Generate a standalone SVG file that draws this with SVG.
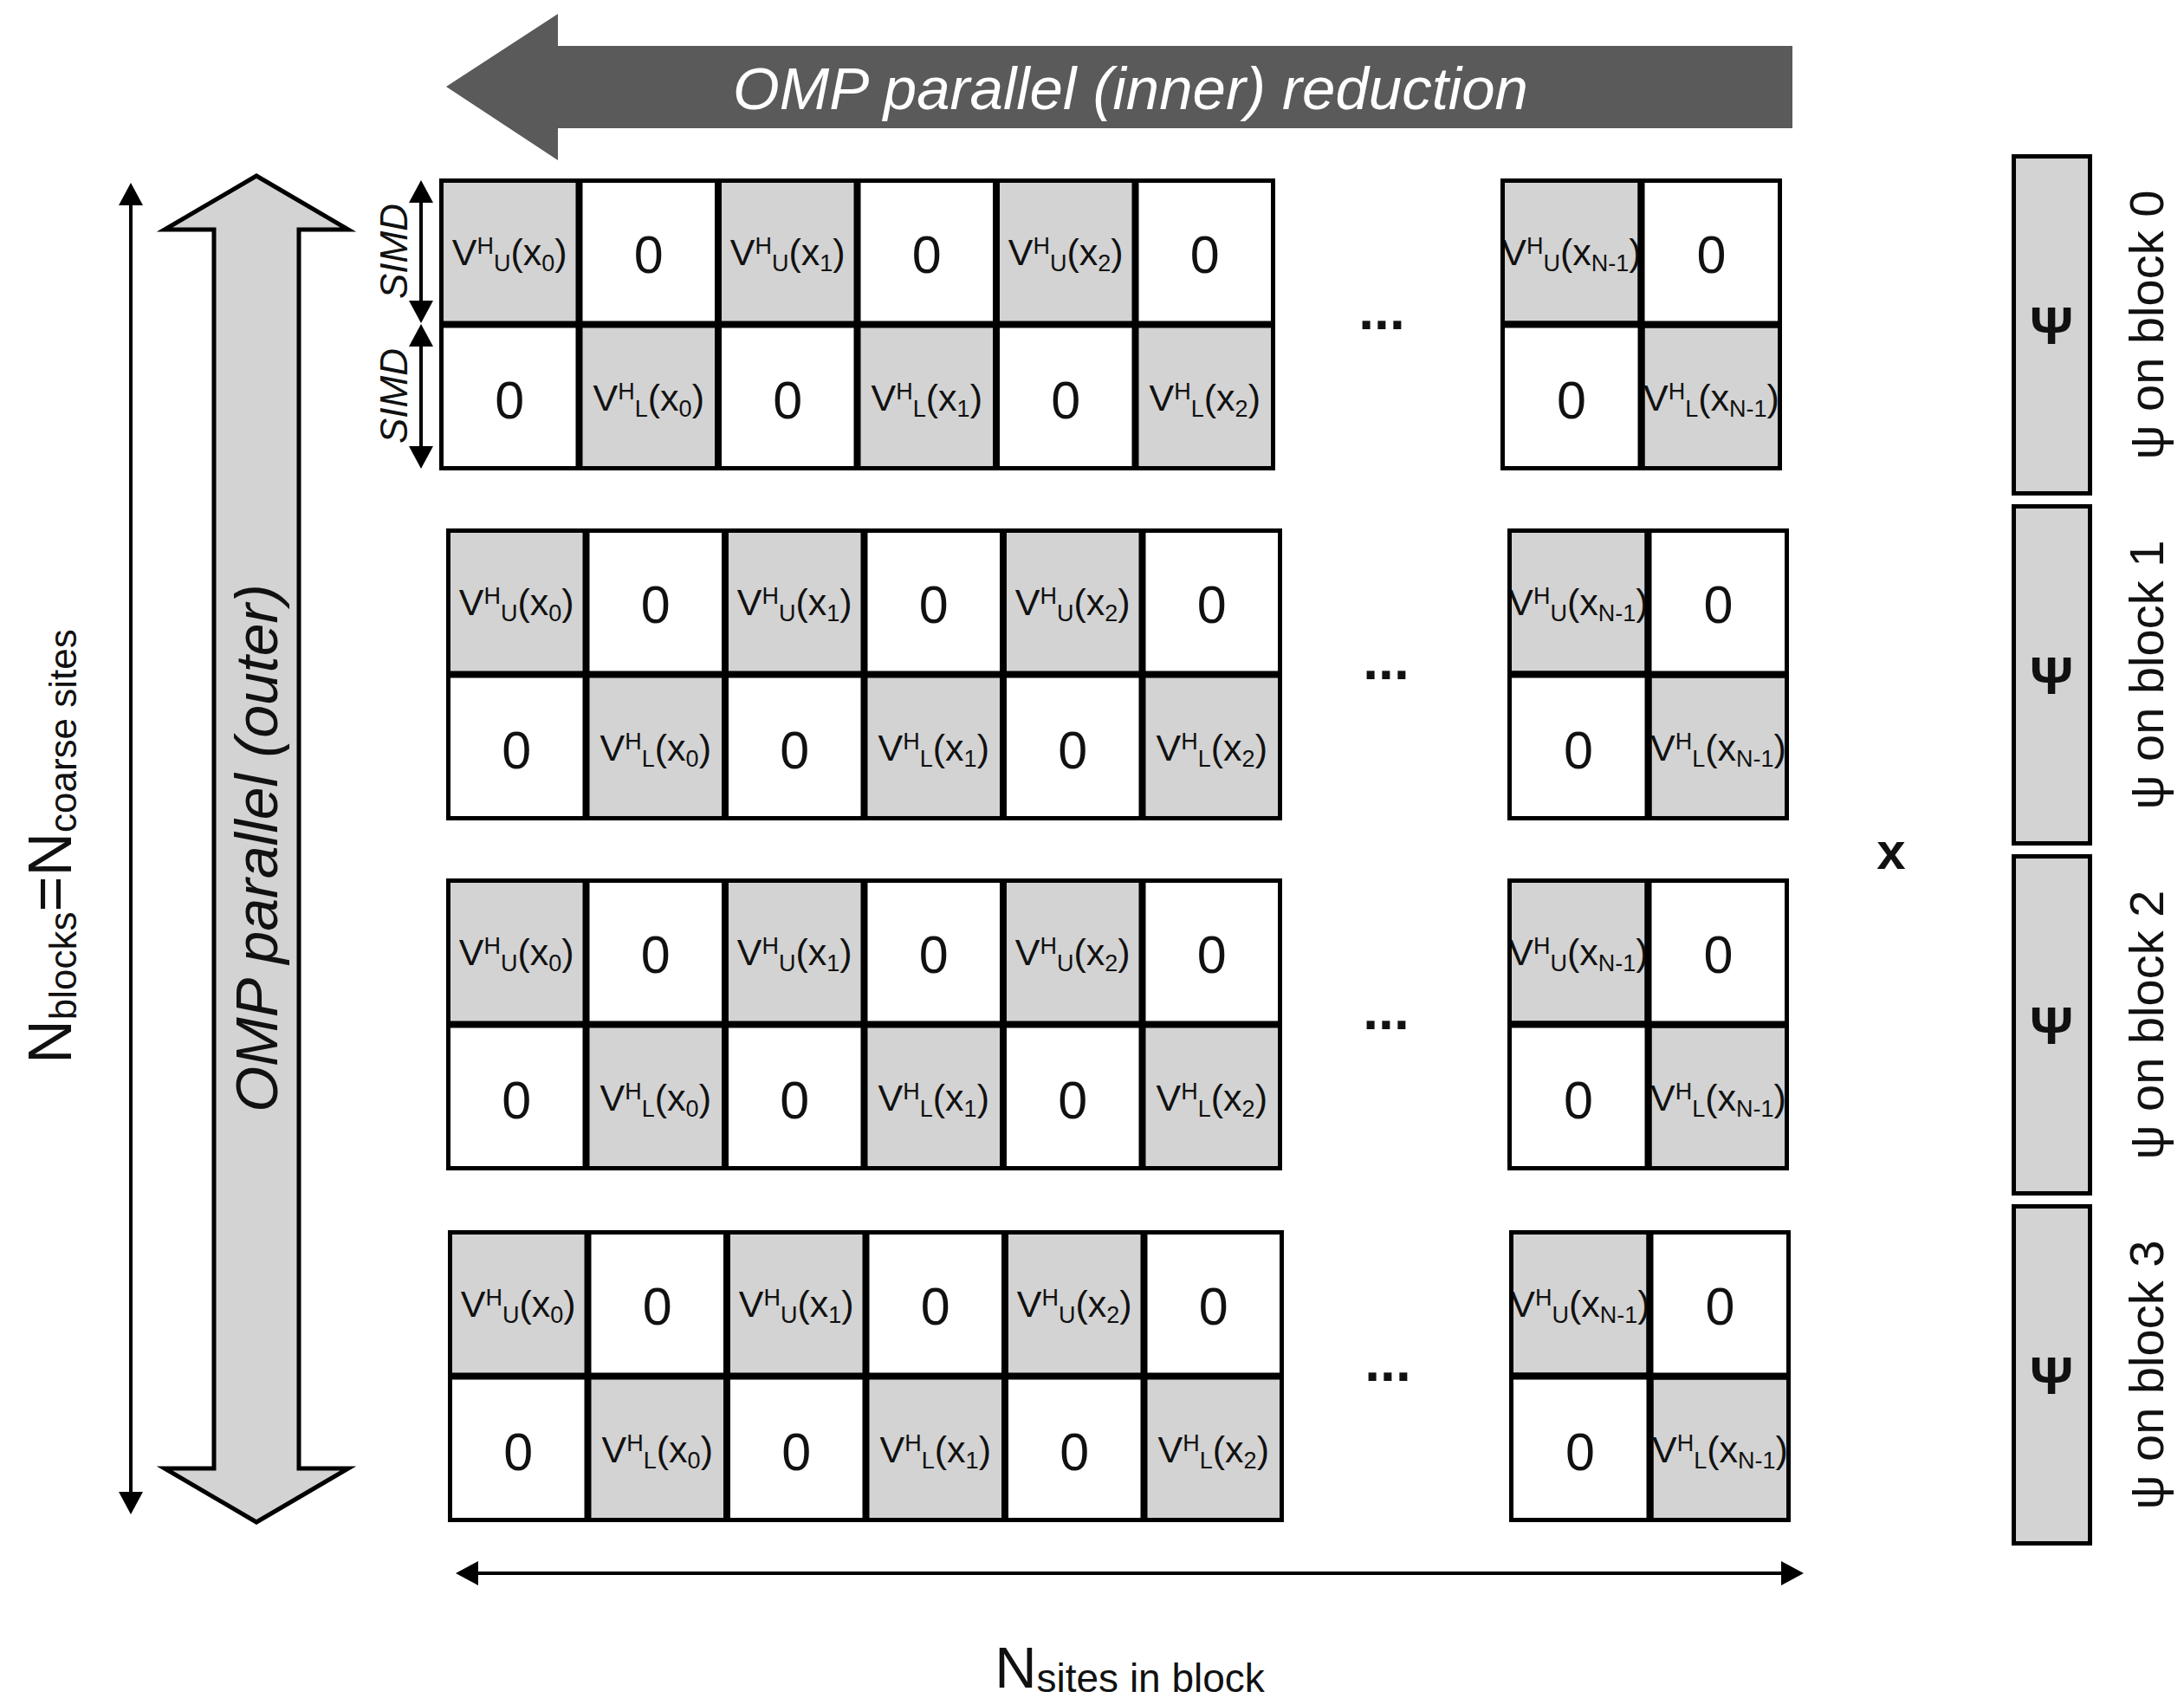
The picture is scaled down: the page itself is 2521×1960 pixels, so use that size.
<svg xmlns="http://www.w3.org/2000/svg" width="2521" height="1960" viewBox="0 0 2521 1960">
<style>
.g{fill:#d3d3d3;stroke:#000;stroke-width:5}
.w{fill:#fff;stroke:#000;stroke-width:5}
.o{fill:none;stroke:#000;stroke-width:5}
text{font-family:"Liberation Sans",Arial,Helvetica,sans-serif;fill:#111}
.v{font-size:43px;text-anchor:middle}
.s{font-size:27px}
.z{font-size:61px;text-anchor:middle}
.e{font-size:64px;font-weight:bold;text-anchor:middle}
.ln{stroke:#000;stroke-width:4;fill:none;marker-start:url(#ah);marker-end:url(#ah)}
.lbl{font-size:56px;text-anchor:middle}
.psi{font-size:62px;font-weight:bold;text-anchor:middle}
</style>
<defs>
<marker id="ah" markerUnits="userSpaceOnUse" markerWidth="26" markerHeight="28" viewBox="0 0 26 28" refX="21" refY="14" orient="auto-start-reverse">
<path d="M0,0 L26,14 L0,28 z" fill="#000"/>
</marker>
</defs>
<rect width="2521" height="1960" fill="#fff"/>

<g id="inner-arrow">
<polygon points="515,100 644,16 644,53 2069,53 2069,148 644,148 644,185" fill="#5a5a5a"/>
<text x="1305" y="126" font-size="69" font-style="italic" text-anchor="middle" style="fill:#fff">OMP parallel (inner) reduction</text>
</g>

<g id="outer-arrow">
<polygon points="296,203 190,265 247,265 247,1695 190,1695 296,1757 402,1695 345,1695 345,265 402,265" fill="#d3d3d3" stroke="#000" stroke-width="5"/>
<text transform="translate(320,979) rotate(-90)" font-size="68" font-style="italic" text-anchor="middle">OMP parallel (outer)</text>
</g>

<g id="nblocks-label">
<text transform="translate(82,977) rotate(-90)" font-size="70" text-anchor="middle">N<tspan font-size="44" dy="6">blocks</tspan><tspan dy="-6">=N</tspan><tspan font-size="44" dy="6">coarse sites</tspan></text>
</g>

<g id="simd-labels">
<text transform="translate(470,290) rotate(-90)" font-size="44" font-style="italic" text-anchor="middle">SIMD</text>
<text transform="translate(470,457) rotate(-90)" font-size="44" font-style="italic" text-anchor="middle">SIMD</text>
</g>

<g id="block0" transform="translate(508,207)">
<rect class="g" x="1.5" y="1.5" width="157.5" height="164.5"/>
<rect class="w" x="162" y="1.5" width="157.5" height="164.5"/>
<rect class="g" x="322.5" y="1.5" width="157.5" height="164.5"/>
<rect class="w" x="483" y="1.5" width="157.5" height="164.5"/>
<rect class="g" x="643.5" y="1.5" width="157.5" height="164.5"/>
<rect class="w" x="804" y="1.5" width="157.5" height="164.5"/>
<rect class="w" x="1.5" y="169" width="157.5" height="164.5"/>
<rect class="g" x="162" y="169" width="157.5" height="164.5"/>
<rect class="w" x="322.5" y="169" width="157.5" height="164.5"/>
<rect class="g" x="483" y="169" width="157.5" height="164.5"/>
<rect class="w" x="643.5" y="169" width="157.5" height="164.5"/>
<rect class="g" x="804" y="169" width="157.5" height="164.5"/>
<rect class="g" x="1226.5" y="1.5" width="158.5" height="164.5"/>
<rect class="w" x="1388" y="1.5" width="158.5" height="164.5"/>
<rect class="w" x="1226.5" y="169" width="158.5" height="164.5"/>
<rect class="g" x="1388" y="169" width="158.5" height="164.5"/>
<text class="v" x="80.25" y="99">V<tspan class="s" dy="-13">H</tspan><tspan class="s" dy="20">U</tspan><tspan dy="-7">(x</tspan><tspan class="s" dy="7">0</tspan><tspan dy="-7">)</tspan></text>
<text class="z" x="240.75" y="108">0</text>
<text class="v" x="401.25" y="99">V<tspan class="s" dy="-13">H</tspan><tspan class="s" dy="20">U</tspan><tspan dy="-7">(x</tspan><tspan class="s" dy="7">1</tspan><tspan dy="-7">)</tspan></text>
<text class="z" x="561.75" y="108">0</text>
<text class="v" x="722.25" y="99">V<tspan class="s" dy="-13">H</tspan><tspan class="s" dy="20">U</tspan><tspan dy="-7">(x</tspan><tspan class="s" dy="7">2</tspan><tspan dy="-7">)</tspan></text>
<text class="z" x="882.75" y="108">0</text>
<text class="z" x="80.25" y="276">0</text>
<text class="v" x="240.75" y="266.5">V<tspan class="s" dy="-13">H</tspan><tspan class="s" dy="20">L</tspan><tspan dy="-7">(x</tspan><tspan class="s" dy="7">0</tspan><tspan dy="-7">)</tspan></text>
<text class="z" x="401.25" y="276">0</text>
<text class="v" x="561.75" y="266.5">V<tspan class="s" dy="-13">H</tspan><tspan class="s" dy="20">L</tspan><tspan dy="-7">(x</tspan><tspan class="s" dy="7">1</tspan><tspan dy="-7">)</tspan></text>
<text class="z" x="722.25" y="276">0</text>
<text class="v" x="882.75" y="266.5">V<tspan class="s" dy="-13">H</tspan><tspan class="s" dy="20">L</tspan><tspan dy="-7">(x</tspan><tspan class="s" dy="7">2</tspan><tspan dy="-7">)</tspan></text>
<text class="e" x="1087" y="173">...</text>
<text class="v" x="1306" y="99">V<tspan class="s" dy="-13">H</tspan><tspan class="s" dy="20">U</tspan><tspan dy="-7">(x</tspan><tspan class="s" dy="7">N-1</tspan><tspan dy="-7">)</tspan></text>
<text class="z" x="1467.5" y="108">0</text>
<text class="z" x="1306" y="276">0</text>
<text class="v" x="1467.5" y="266.5">V<tspan class="s" dy="-13">H</tspan><tspan class="s" dy="20">L</tspan><tspan dy="-7">(x</tspan><tspan class="s" dy="7">N-1</tspan><tspan dy="-7">)</tspan></text>
<rect class="o" x="1226.5" y="1.5" width="158.5" height="164.5"/>
<rect class="o" x="1388" y="169" width="158.5" height="164.5"/>
</g>

<g id="block1" transform="translate(516,611)">
<rect class="g" x="1.5" y="1.5" width="157.5" height="164.5"/>
<rect class="w" x="162" y="1.5" width="157.5" height="164.5"/>
<rect class="g" x="322.5" y="1.5" width="157.5" height="164.5"/>
<rect class="w" x="483" y="1.5" width="157.5" height="164.5"/>
<rect class="g" x="643.5" y="1.5" width="157.5" height="164.5"/>
<rect class="w" x="804" y="1.5" width="157.5" height="164.5"/>
<rect class="w" x="1.5" y="169" width="157.5" height="164.5"/>
<rect class="g" x="162" y="169" width="157.5" height="164.5"/>
<rect class="w" x="322.5" y="169" width="157.5" height="164.5"/>
<rect class="g" x="483" y="169" width="157.5" height="164.5"/>
<rect class="w" x="643.5" y="169" width="157.5" height="164.5"/>
<rect class="g" x="804" y="169" width="157.5" height="164.5"/>
<rect class="g" x="1226.5" y="1.5" width="158.5" height="164.5"/>
<rect class="w" x="1388" y="1.5" width="158.5" height="164.5"/>
<rect class="w" x="1226.5" y="169" width="158.5" height="164.5"/>
<rect class="g" x="1388" y="169" width="158.5" height="164.5"/>
<text class="v" x="80.25" y="99">V<tspan class="s" dy="-13">H</tspan><tspan class="s" dy="20">U</tspan><tspan dy="-7">(x</tspan><tspan class="s" dy="7">0</tspan><tspan dy="-7">)</tspan></text>
<text class="z" x="240.75" y="108">0</text>
<text class="v" x="401.25" y="99">V<tspan class="s" dy="-13">H</tspan><tspan class="s" dy="20">U</tspan><tspan dy="-7">(x</tspan><tspan class="s" dy="7">1</tspan><tspan dy="-7">)</tspan></text>
<text class="z" x="561.75" y="108">0</text>
<text class="v" x="722.25" y="99">V<tspan class="s" dy="-13">H</tspan><tspan class="s" dy="20">U</tspan><tspan dy="-7">(x</tspan><tspan class="s" dy="7">2</tspan><tspan dy="-7">)</tspan></text>
<text class="z" x="882.75" y="108">0</text>
<text class="z" x="80.25" y="276">0</text>
<text class="v" x="240.75" y="266.5">V<tspan class="s" dy="-13">H</tspan><tspan class="s" dy="20">L</tspan><tspan dy="-7">(x</tspan><tspan class="s" dy="7">0</tspan><tspan dy="-7">)</tspan></text>
<text class="z" x="401.25" y="276">0</text>
<text class="v" x="561.75" y="266.5">V<tspan class="s" dy="-13">H</tspan><tspan class="s" dy="20">L</tspan><tspan dy="-7">(x</tspan><tspan class="s" dy="7">1</tspan><tspan dy="-7">)</tspan></text>
<text class="z" x="722.25" y="276">0</text>
<text class="v" x="882.75" y="266.5">V<tspan class="s" dy="-13">H</tspan><tspan class="s" dy="20">L</tspan><tspan dy="-7">(x</tspan><tspan class="s" dy="7">2</tspan><tspan dy="-7">)</tspan></text>
<text class="e" x="1084" y="173">...</text>
<text class="v" x="1306" y="99">V<tspan class="s" dy="-13">H</tspan><tspan class="s" dy="20">U</tspan><tspan dy="-7">(x</tspan><tspan class="s" dy="7">N-1</tspan><tspan dy="-7">)</tspan></text>
<text class="z" x="1467.5" y="108">0</text>
<text class="z" x="1306" y="276">0</text>
<text class="v" x="1467.5" y="266.5">V<tspan class="s" dy="-13">H</tspan><tspan class="s" dy="20">L</tspan><tspan dy="-7">(x</tspan><tspan class="s" dy="7">N-1</tspan><tspan dy="-7">)</tspan></text>
<rect class="o" x="1226.5" y="1.5" width="158.5" height="164.5"/>
<rect class="o" x="1388" y="169" width="158.5" height="164.5"/>
</g>

<g id="block2" transform="translate(516,1015)">
<rect class="g" x="1.5" y="1.5" width="157.5" height="164.5"/>
<rect class="w" x="162" y="1.5" width="157.5" height="164.5"/>
<rect class="g" x="322.5" y="1.5" width="157.5" height="164.5"/>
<rect class="w" x="483" y="1.5" width="157.5" height="164.5"/>
<rect class="g" x="643.5" y="1.5" width="157.5" height="164.5"/>
<rect class="w" x="804" y="1.5" width="157.5" height="164.5"/>
<rect class="w" x="1.5" y="169" width="157.5" height="164.5"/>
<rect class="g" x="162" y="169" width="157.5" height="164.5"/>
<rect class="w" x="322.5" y="169" width="157.5" height="164.5"/>
<rect class="g" x="483" y="169" width="157.5" height="164.5"/>
<rect class="w" x="643.5" y="169" width="157.5" height="164.5"/>
<rect class="g" x="804" y="169" width="157.5" height="164.5"/>
<rect class="g" x="1226.5" y="1.5" width="158.5" height="164.5"/>
<rect class="w" x="1388" y="1.5" width="158.5" height="164.5"/>
<rect class="w" x="1226.5" y="169" width="158.5" height="164.5"/>
<rect class="g" x="1388" y="169" width="158.5" height="164.5"/>
<text class="v" x="80.25" y="99">V<tspan class="s" dy="-13">H</tspan><tspan class="s" dy="20">U</tspan><tspan dy="-7">(x</tspan><tspan class="s" dy="7">0</tspan><tspan dy="-7">)</tspan></text>
<text class="z" x="240.75" y="108">0</text>
<text class="v" x="401.25" y="99">V<tspan class="s" dy="-13">H</tspan><tspan class="s" dy="20">U</tspan><tspan dy="-7">(x</tspan><tspan class="s" dy="7">1</tspan><tspan dy="-7">)</tspan></text>
<text class="z" x="561.75" y="108">0</text>
<text class="v" x="722.25" y="99">V<tspan class="s" dy="-13">H</tspan><tspan class="s" dy="20">U</tspan><tspan dy="-7">(x</tspan><tspan class="s" dy="7">2</tspan><tspan dy="-7">)</tspan></text>
<text class="z" x="882.75" y="108">0</text>
<text class="z" x="80.25" y="276">0</text>
<text class="v" x="240.75" y="266.5">V<tspan class="s" dy="-13">H</tspan><tspan class="s" dy="20">L</tspan><tspan dy="-7">(x</tspan><tspan class="s" dy="7">0</tspan><tspan dy="-7">)</tspan></text>
<text class="z" x="401.25" y="276">0</text>
<text class="v" x="561.75" y="266.5">V<tspan class="s" dy="-13">H</tspan><tspan class="s" dy="20">L</tspan><tspan dy="-7">(x</tspan><tspan class="s" dy="7">1</tspan><tspan dy="-7">)</tspan></text>
<text class="z" x="722.25" y="276">0</text>
<text class="v" x="882.75" y="266.5">V<tspan class="s" dy="-13">H</tspan><tspan class="s" dy="20">L</tspan><tspan dy="-7">(x</tspan><tspan class="s" dy="7">2</tspan><tspan dy="-7">)</tspan></text>
<text class="e" x="1084" y="173">...</text>
<text class="v" x="1306" y="99">V<tspan class="s" dy="-13">H</tspan><tspan class="s" dy="20">U</tspan><tspan dy="-7">(x</tspan><tspan class="s" dy="7">N-1</tspan><tspan dy="-7">)</tspan></text>
<text class="z" x="1467.5" y="108">0</text>
<text class="z" x="1306" y="276">0</text>
<text class="v" x="1467.5" y="266.5">V<tspan class="s" dy="-13">H</tspan><tspan class="s" dy="20">L</tspan><tspan dy="-7">(x</tspan><tspan class="s" dy="7">N-1</tspan><tspan dy="-7">)</tspan></text>
<rect class="o" x="1226.5" y="1.5" width="158.5" height="164.5"/>
<rect class="o" x="1388" y="169" width="158.5" height="164.5"/>
</g>

<g id="block3" transform="translate(518,1421)">
<rect class="g" x="1.5" y="1.5" width="157.5" height="164.5"/>
<rect class="w" x="162" y="1.5" width="157.5" height="164.5"/>
<rect class="g" x="322.5" y="1.5" width="157.5" height="164.5"/>
<rect class="w" x="483" y="1.5" width="157.5" height="164.5"/>
<rect class="g" x="643.5" y="1.5" width="157.5" height="164.5"/>
<rect class="w" x="804" y="1.5" width="157.5" height="164.5"/>
<rect class="w" x="1.5" y="169" width="157.5" height="164.5"/>
<rect class="g" x="162" y="169" width="157.5" height="164.5"/>
<rect class="w" x="322.5" y="169" width="157.5" height="164.5"/>
<rect class="g" x="483" y="169" width="157.5" height="164.5"/>
<rect class="w" x="643.5" y="169" width="157.5" height="164.5"/>
<rect class="g" x="804" y="169" width="157.5" height="164.5"/>
<rect class="g" x="1226.5" y="1.5" width="158.5" height="164.5"/>
<rect class="w" x="1388" y="1.5" width="158.5" height="164.5"/>
<rect class="w" x="1226.5" y="169" width="158.5" height="164.5"/>
<rect class="g" x="1388" y="169" width="158.5" height="164.5"/>
<text class="v" x="80.25" y="99">V<tspan class="s" dy="-13">H</tspan><tspan class="s" dy="20">U</tspan><tspan dy="-7">(x</tspan><tspan class="s" dy="7">0</tspan><tspan dy="-7">)</tspan></text>
<text class="z" x="240.75" y="108">0</text>
<text class="v" x="401.25" y="99">V<tspan class="s" dy="-13">H</tspan><tspan class="s" dy="20">U</tspan><tspan dy="-7">(x</tspan><tspan class="s" dy="7">1</tspan><tspan dy="-7">)</tspan></text>
<text class="z" x="561.75" y="108">0</text>
<text class="v" x="722.25" y="99">V<tspan class="s" dy="-13">H</tspan><tspan class="s" dy="20">U</tspan><tspan dy="-7">(x</tspan><tspan class="s" dy="7">2</tspan><tspan dy="-7">)</tspan></text>
<text class="z" x="882.75" y="108">0</text>
<text class="z" x="80.25" y="276">0</text>
<text class="v" x="240.75" y="266.5">V<tspan class="s" dy="-13">H</tspan><tspan class="s" dy="20">L</tspan><tspan dy="-7">(x</tspan><tspan class="s" dy="7">0</tspan><tspan dy="-7">)</tspan></text>
<text class="z" x="401.25" y="276">0</text>
<text class="v" x="561.75" y="266.5">V<tspan class="s" dy="-13">H</tspan><tspan class="s" dy="20">L</tspan><tspan dy="-7">(x</tspan><tspan class="s" dy="7">1</tspan><tspan dy="-7">)</tspan></text>
<text class="z" x="722.25" y="276">0</text>
<text class="v" x="882.75" y="266.5">V<tspan class="s" dy="-13">H</tspan><tspan class="s" dy="20">L</tspan><tspan dy="-7">(x</tspan><tspan class="s" dy="7">2</tspan><tspan dy="-7">)</tspan></text>
<text class="e" x="1084" y="173">...</text>
<text class="v" x="1306" y="99">V<tspan class="s" dy="-13">H</tspan><tspan class="s" dy="20">U</tspan><tspan dy="-7">(x</tspan><tspan class="s" dy="7">N-1</tspan><tspan dy="-7">)</tspan></text>
<text class="z" x="1467.5" y="108">0</text>
<text class="z" x="1306" y="276">0</text>
<text class="v" x="1467.5" y="266.5">V<tspan class="s" dy="-13">H</tspan><tspan class="s" dy="20">L</tspan><tspan dy="-7">(x</tspan><tspan class="s" dy="7">N-1</tspan><tspan dy="-7">)</tspan></text>
<rect class="o" x="1226.5" y="1.5" width="158.5" height="164.5"/>
<rect class="o" x="1388" y="169" width="158.5" height="164.5"/>
</g>

<g id="times">
<text x="2183" y="1003" font-size="60" font-weight="bold" text-anchor="middle">x</text>
</g>

<g id="psi0">
<rect class="g" x="2324.5" y="180.5" width="88" height="389"/>
<text class="psi" x="2368" y="397">Ψ</text>
<text class="lbl" transform="translate(2497,375) rotate(-90)">ψ on block 0</text>
</g>
<g id="psi1">
<rect class="g" x="2324.5" y="584.5" width="88" height="389"/>
<text class="psi" x="2368" y="801">Ψ</text>
<text class="lbl" transform="translate(2497,779) rotate(-90)">ψ on block 1</text>
</g>
<g id="psi2">
<rect class="g" x="2324.5" y="988.5" width="88" height="389"/>
<text class="psi" x="2368" y="1205">Ψ</text>
<text class="lbl" transform="translate(2497,1183) rotate(-90)">ψ on block 2</text>
</g>
<g id="psi3">
<rect class="g" x="2324.5" y="1392.5" width="88" height="389"/>
<text class="psi" x="2368" y="1609">Ψ</text>
<text class="lbl" transform="translate(2497,1587) rotate(-90)">ψ on block 3</text>
</g>

<g id="nsites-label">
<text x="1304" y="1948" font-size="67" text-anchor="middle">N<tspan font-size="46" dy="5">sites in block</tspan></text>
</g>

<g id="connectors">
<line class="ln" x1="151" y1="216" x2="151" y2="1743"/>
<line class="ln" x1="486" y1="213" x2="486" y2="368"/>
<line class="ln" x1="486" y1="379" x2="486" y2="536"/>
<line class="ln" x1="531" y1="1816" x2="2077" y2="1816"/>
</g>
</svg>
